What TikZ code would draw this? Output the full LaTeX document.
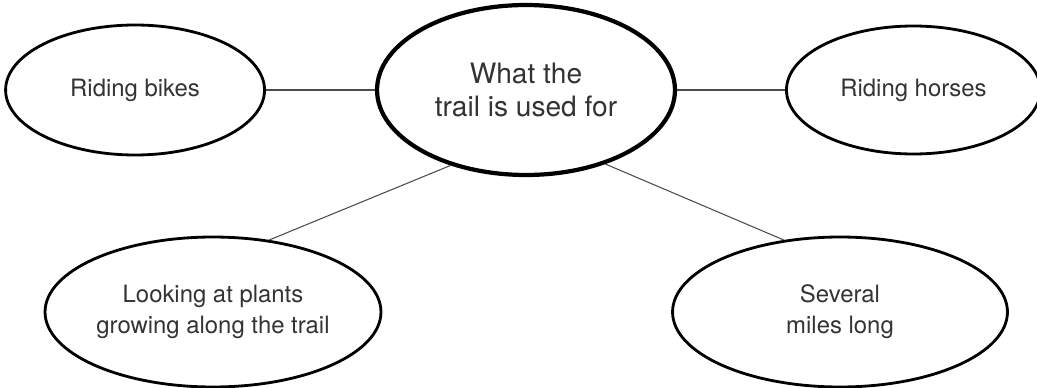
\documentclass[tikz,border=0pt]{standalone}
\usepackage{fontspec}
\setmainfont{TeX Gyre Heros}
\usetikzlibrary{positioning,shapes.geometric}

\begin{document}
\begin{tikzpicture}[x=0.02cm, y=-0.02cm,
		idea/.style={ellipse, draw, line width=1.6pt, inner sep=0pt, align=center, text=black!80, font=\fontsize{13.6}{17.5}\selectfont},
		main/.style={idea, line width=2.4pt, font=\fontsize{16}{18.7}\selectfont},
		link/.style={line width=0.6pt, black!70}]
			\useasboundingbox (0,0) rectangle (1037,388);
			\node[main, minimum width=5.96cm, minimum height=3.4cm] (use) at (526,90) {What the\\trail is used for};
			\node[idea, minimum width=5.18cm, minimum height=2.6cm, left = 2.18cm of use] (bikes) {Riding bikes};
			\node[idea, minimum width=5.08cm, minimum height=2.56cm, right = 2.16cm of use] (horses) {Riding horses};
			\node[idea, minimum width=6.72cm, minimum height=3cm] (plants) at (213,312) {Looking at plants\\growing along the trail};
			\node[idea, minimum width=6.7cm, minimum height=3cm] (miles) at (840,312) {Several\\miles long};
			\draw[link] (bikes) -- (use);
			\draw[link] (use) -- (horses);
			\draw[link] (use.225) -- (plants.52);
			\draw[link] (use.317) -- (miles.128);
		\end{tikzpicture}
\end{document}
